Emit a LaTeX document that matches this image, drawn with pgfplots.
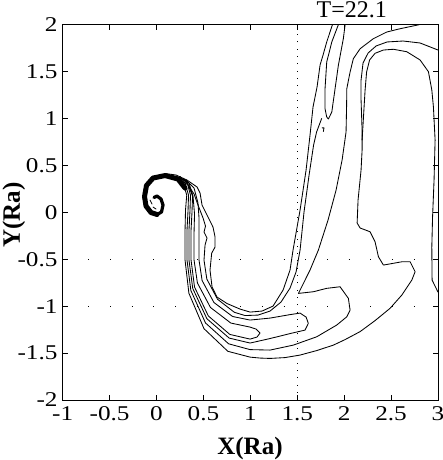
\documentclass[border=0pt]{standalone}
\usepackage{fontspec}
\setmainfont{Liberation Serif}
\newfontfamily\tickfont{Liberation Serif}[FakeStretch=1.2]
\usepackage{pgfplots}
\pgfplotsset{compat=1.18}
\tikzset{contour/.style={black, line width=0.85pt, line join=round, line cap=round}}

\begin{document}
\begin{tikzpicture}
\begin{axis}[
  name=ax,
  scale only axis,
  width=375.3pt, height=375.3pt,
  xmin=-1, xmax=3, ymin=-2, ymax=2,
  xtick={-1,-0.5,0,0.5,1,1.5,2,2.5,3},
  xticklabels={-1,-0.5,0,0.5,1,1.5,2,2.5,3},
  ytick={-2,-1.5,-1,-0.5,0,0.5,1,1.5,2},
  yticklabels={-2,-1.5,-1,-0.5,0,0.5,1,1.5,2},
  tick align=inside,
  major tick length=5pt,
  every tick/.style={black, line width=0.8pt},
  axis line style={black, line width=0.9pt},
  xticklabel style={anchor=north, inner sep=0pt, yshift=-6.5pt, font=\tickfont\fontsize{21}{21}\selectfont},
  yticklabel style={anchor=east, inner sep=0pt, xshift=-5pt, font=\tickfont\fontsize{21}{21}\selectfont},
  extra x ticks={1.5},
  extra x tick labels={},
  extra x tick style={grid=major, major tick length=0pt,
    major grid style={black, line width=0.8pt, dash pattern=on 0.8pt off 6.5pt}},
  extra y ticks={-1,-0.5},
  extra y tick labels={},
  extra y tick style={grid=major, major tick length=0pt,
    major grid style={black, line width=0.8pt, dash pattern=on 0.8pt off 20.9pt, dash phase=17.8pt}},
  xlabel={X(Ra)},
  ylabel={Y(Ra)},
  xlabel style={at={(axis description cs:0.499,-0.1439)}, anchor=base, inner sep=0pt,
    font=\bfseries\fontsize{25}{25}\selectfont},
  ylabel style={at={(axis description cs:-0.1138,0.493)}, anchor=base, inner sep=0pt,
    font=\bfseries\fontsize{25}{25}\selectfont},
  every axis title shift=0pt,
  title={T=22.1},
  title style={at={(axis description cs:0.77,1.018)}, anchor=base, inner sep=0pt,
    font=\fontsize{24}{24}\selectfont},
]
% outer contour: right border, inner arc, step, bottom, stem
\addplot[contour] coordinates {
 (3.0,1.730) (2.809,1.805) (2.628,1.826) (2.457,1.816) (2.340,1.773) (2.255,1.698)
 (2.201,1.592) (2.180,1.410) (2.180,1.197) (2.191,0.877) (2.191,0.664) (2.180,0.451)
 (2.148,0.131) (2.138,-0.114) (2.170,-0.167) (2.276,-0.207) (2.329,-0.313) (2.365,-0.473)
 (2.418,-0.562) (2.614,-0.527) (2.703,-0.527) (2.756,-0.633) (2.721,-0.722) (2.614,-0.882)
 (2.489,-1.023) (2.329,-1.154) (2.170,-1.271) (2.010,-1.356) (1.885,-1.415) (1.708,-1.473)
 (1.530,-1.521) (1.370,-1.548) (1.210,-1.557) (1.103,-1.553) (0.997,-1.543) (0.760,-1.481)
 (0.506,-1.240) (0.345,-0.862) (0.304,-0.509) (0.304,-0.189) (0.309,0.025) (0.322,0.184)
 (0.283,0.312) (0.215,0.380)};
% second contour: top border arc, polygon, bottom, stem
\addplot[contour] coordinates {
 (2.80,2.0) (2.596,1.957) (2.454,1.922) (2.311,1.851) (2.170,1.744) (2.098,1.638)
 (2.063,1.496) (2.028,1.318) (2.026,1.144) (2.020,0.856) (1.978,0.558) (1.914,0.238)
 (1.828,-0.082) (1.725,-0.402) (1.636,-0.615) (1.548,-0.793) (1.512,-0.864) (1.672,-0.846)
 (1.814,-0.810) (1.956,-0.793) (2.045,-0.917) (2.063,-1.042) (2.028,-1.113) (1.921,-1.201)
 (1.708,-1.326) (1.458,-1.415) (1.210,-1.468) (0.997,-1.463) (0.768,-1.401) (0.522,-1.179)
 (0.366,-0.833) (0.325,-0.509) (0.325,-0.189) (0.336,0.025) (0.341,0.184) (0.304,0.312)
 (0.229,0.371)};
% inner arc along the right border
\addplot[contour] coordinates {
 (3.0,-0.850) (2.937,-0.722) (2.934,-0.370) (2.942,-0.050) (2.958,0.344) (2.969,0.771)
 (2.951,1.126) (2.934,1.304) (2.898,1.499) (2.809,1.624) (2.667,1.712) (2.525,1.738)
 (2.418,1.730) (2.329,1.695) (2.271,1.624) (2.239,1.496) (2.223,1.304) (2.207,1.037)
 (2.191,0.771)};
% tongue from the top border
\addplot[contour] coordinates {
 (1.938,2.0) (1.868,1.816) (1.814,1.602) (1.796,1.318) (1.796,1.104) (1.814,1.016)
 (1.832,0.995) (1.868,1.069) (1.903,1.318) (1.938,1.567) (1.991,1.851) (2.010,2.0)};
\addplot[contour] coordinates {(1.765,0.900) (1.785,0.900) (1.778,0.862)};
% innermost U contour
\addplot[contour] coordinates {
 (1.875,2.0) (1.814,1.816) (1.775,1.677) (1.743,1.570) (1.711,1.336) (1.668,1.123)
 (1.636,0.824) (1.594,0.451) (1.530,0.025) (1.455,-0.402) (1.423,-0.615) (1.349,-0.828)
 (1.242,-0.999) (1.125,-1.052) (0.997,-1.063) (0.890,-1.031) (0.752,-0.972) (0.645,-0.903)
 (0.592,-0.796) (0.570,-0.615) (0.588,-0.434) (0.624,-0.370) (0.624,-0.263) (0.602,-0.157)
 (0.549,-0.050) (0.485,0.078) (0.464,0.206) (0.432,0.270) (0.325,0.344) (0.208,0.398)
 (0.091,0.414)};
% second U contour
\addplot[contour] coordinates {
 (1.760,1.000) (1.706,0.856) (1.674,0.717) (1.626,0.398) (1.572,0.003) (1.530,-0.402)
 (1.487,-0.636) (1.423,-0.807) (1.327,-0.956) (1.210,-1.052) (1.082,-1.095) (0.944,-1.100)
 (0.829,-1.065) (0.650,-0.926) (0.536,-0.711) (0.506,-0.509) (0.517,-0.349) (0.538,-0.274)
 (0.506,-0.210) (0.522,-0.146) (0.496,-0.061) (0.442,0.078) (0.400,0.195) (0.336,0.291)
 (0.229,0.366) (0.112,0.398)};
% large lobe
\addplot[contour] coordinates {
 (0.165,0.392) (0.314,0.344) (0.400,0.259) (0.442,0.099) (0.453,-0.061) (0.453,-0.242)
 (0.453,-0.509) (0.486,-0.727) (0.612,-0.961) (0.811,-1.110) (0.997,-1.148) (1.210,-1.127)
 (1.423,-1.090) (1.530,-1.074) (1.594,-1.116) (1.618,-1.183) (1.583,-1.255) (1.423,-1.292)
 (1.210,-1.345) (0.997,-1.393) (0.774,-1.340) (0.537,-1.134) (0.386,-0.811) (0.346,-0.509)
 (0.346,-0.189) (0.357,0.025) (0.362,0.184) (0.325,0.323) (0.240,0.376)};
% small lobe
\addplot[contour] coordinates {
 (0.197,0.387) (0.346,0.312) (0.389,0.174) (0.405,-0.018) (0.400,-0.210) (0.400,-0.509)
 (0.436,-0.753) (0.575,-1.014) (0.792,-1.180) (0.997,-1.223) (1.061,-1.244) (1.103,-1.287)
 (1.071,-1.329) (0.997,-1.351) (0.781,-1.301) (0.552,-1.104) (0.405,-0.796) (0.368,-0.509)
 (0.368,-0.189) (0.378,0.003) (0.384,0.174) (0.336,0.296) (0.251,0.382)};
% dense spiral core
\addplot[contour, line width=5pt] coordinates {
 (0.304,0.259) (0.229,0.355) (0.091,0.392) (-0.037,0.366) (-0.107,0.286) (-0.128,0.168)
 (-0.112,0.067) (-0.059,-0.002) (0.005,-0.023)};
\addplot[contour, line width=3.2pt] coordinates {
 (0.005,-0.023) (0.053,0.003) (0.069,0.078) (0.048,0.142) (0.005,0.174) (-0.027,0.158)};
\addplot[contour] coordinates {(-0.069,0.131) (-0.048,0.088)};
\addplot[contour] coordinates {(-0.037,0.056) (-0.005,0.035)};
\end{axis}
\pgfresetboundingbox
\path[use as bounding box] ([shift={(-62.7pt,-60pt)}]ax.south west) rectangle ([shift={(5pt,24.7pt)}]ax.north east);
\end{tikzpicture}
\end{document}
